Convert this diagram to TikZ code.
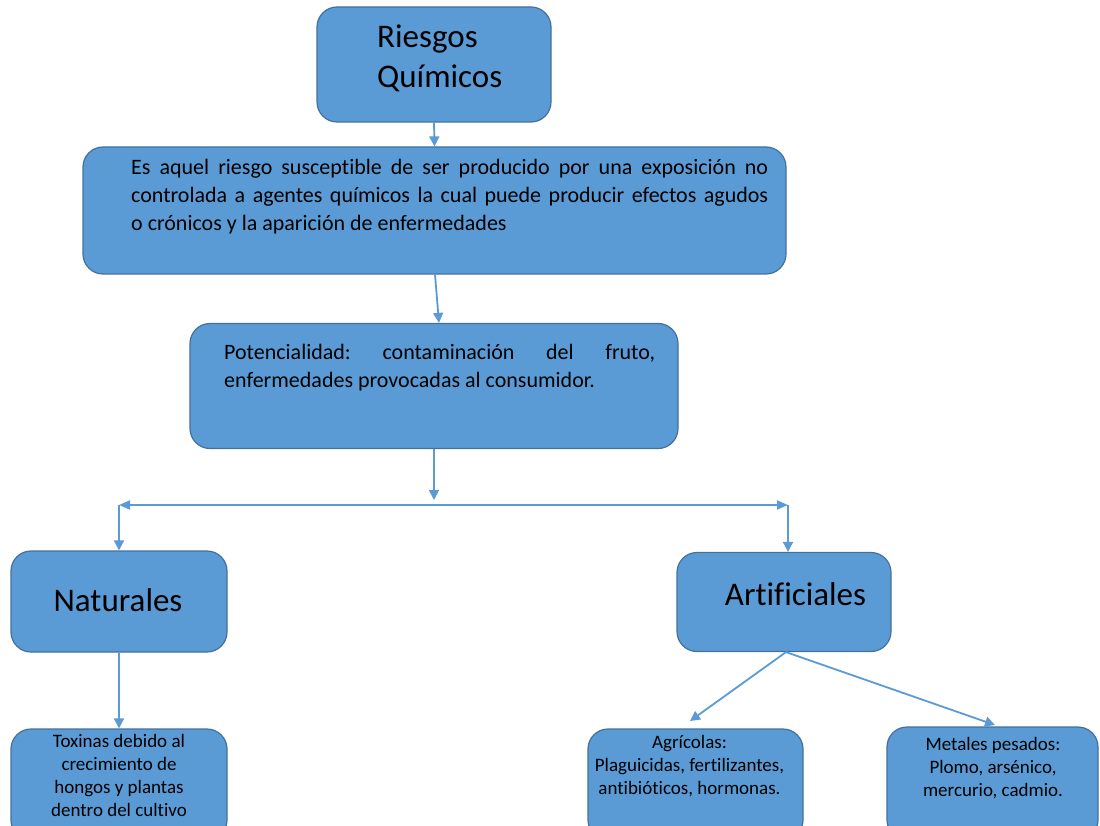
\documentclass[tikz,border=0pt]{standalone}
\usepackage{fontspec}
\setmainfont{Carlito}[Ligatures={NoCommon}]
\usetikzlibrary{arrows.meta}
\frenchspacing

\definecolor{boxfill}{RGB}{91,155,213}
\definecolor{boxline}{RGB}{65,113,156}
\definecolor{linkblue}{RGB}{91,155,213}

\tikzset{
  box/.style={draw=boxline, fill=boxfill, line width=1.2pt, rounded corners=20pt,
              inner sep=0pt, rectangle},
  label/.style={inner sep=0pt, text=black},
  arr/.style={draw=linkblue, line width=1.8pt, -{Triangle[length=10pt,width=10pt]}},
  dbl/.style={draw=linkblue, line width=1.8pt,
              {Triangle[length=11pt,width=9pt]}-{Triangle[length=11pt,width=9pt]}},
  bigfont/.style={font=\fontsize{33}{40}\selectfont},
  midfont/.style={font=\fontsize{22}{28}\selectfont},
  smallfont/.style={font=\fontsize{19}{23}\selectfont},
}

\begin{document}
\begin{tikzpicture}[x=1pt,y=-1pt]
  \fill[white] (0,0) rectangle (1100,826);
  \useasboundingbox (0,0) rectangle (1100,826);

  % boxes
  \node[box, minimum width=234pt, minimum height=115pt] (top) at (434,64.5) {};
  \node[box, minimum width=703pt, minimum height=127pt] (def) at (434.5,210.5) {};
  \node[box, minimum width=488pt, minimum height=125pt] (pot) at (434,386) {};
  \node[box, minimum width=216pt, minimum height=101pt] (nat) at (119,601.5) {};
  \node[box, minimum width=214pt, minimum height=99pt]  (art) at (784,602) {};
  \node[box, minimum width=216pt, minimum height=111pt] (tox) at (119,784.5) {};
  \node[box, minimum width=215pt, minimum height=111pt] (agr) at (695.5,784.5) {};
  \node[box, minimum width=211pt, minimum height=113pt] (met) at (992.5,783.5) {};

  % texts
  \node[label, bigfont, anchor=north west, align=left] (ttop) at (377,19)
    {\rule{0pt}{28pt}Riesgos\\Químicos};
  \node[label, midfont, anchor=north west, align=left] (tdef) at (131,154)
    {\rule{0pt}{20pt}\makebox[637pt][s]{Es aquel riesgo susceptible de ser producido por una exposición no}\\
     \makebox[637pt][s]{controlada a agentes químicos la cual puede producir efectos agudos}\\
     o crónicos y la aparición de enfermedades};
  \node[label, midfont, anchor=north west, align=left] (tpot) at (224,339)
    {\rule{0pt}{20pt}\makebox[431pt][s]{Potencialidad: contaminación del fruto,}\\
     enfermedades provocadas al consumidor.};
  \node[label, bigfont, anchor=base] (tnat) at (118,611) {Naturales};
  \node[label, bigfont, anchor=base] (tart) at (795.5,605) {Artificiales};
  \node[label, smallfont, anchor=north, align=center] (ttox) at (119,731)
    {\rule{0pt}{16pt}Toxinas debido al\\crecimiento de\\hongos y plantas\\dentro del cultivo};
  \node[label, smallfont, anchor=north, align=center] (tagr) at (689.5,732)
    {\rule{0pt}{16pt}Agrícolas:\\Plaguicidas, fertilizantes,\\antibióticos, hormonas.};
  \node[label, smallfont, anchor=north, align=center] (tmet) at (993,734)
    {\rule{0pt}{16pt}Metales pesados:\\Plomo, arsénico,\\mercurio, cadmio.};

  % connector points
  \coordinate (hub) at (434,500);
  \coordinate (L) at (119,505);
  \coordinate (R) at (788,505);
  \coordinate (agrtip) at (690,721);
  \coordinate (mettip) at (995,725);

  % connectors
  \draw[arr] (top.south) -- (def.north);
  \draw[arr] ([xshift=0.5pt]def.south) -- ([xshift=5pt]pot.north);
  \draw[arr] (pot.south) -- (hub);
  \draw[dbl] (L) -- (R);
  \draw[arr] (L) -- (L |- nat.north);
  \draw[arr] (R) -- (R |- art.north);
  \draw[arr] (nat.south) -- (tox.north);
  \draw[arr] ([xshift=2pt]art.south) -- (agrtip);
  \draw[arr] ([xshift=2pt]art.south) -- (mettip);
\end{tikzpicture}
\end{document}
